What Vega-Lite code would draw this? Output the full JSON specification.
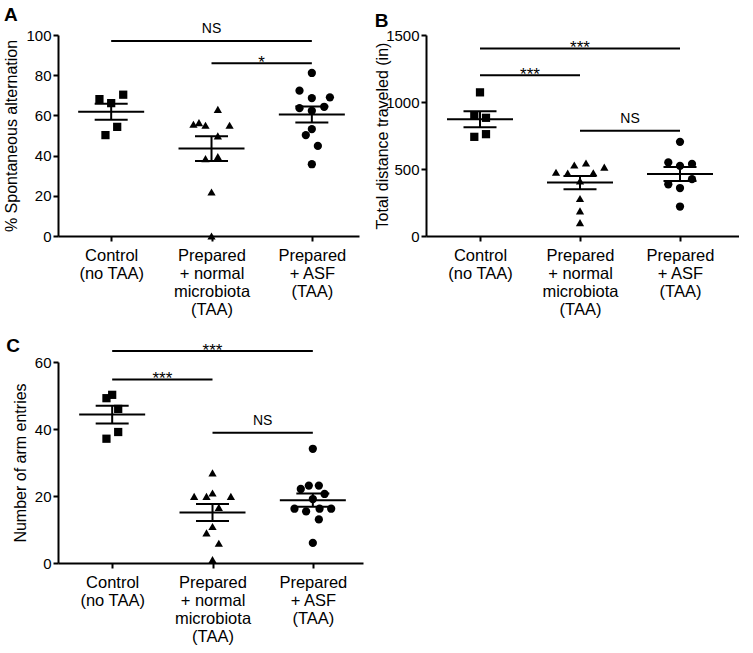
{
  "$schema": "https://vega.github.io/schema/vega-lite/v6.json",
  "padding": {"left": 3, "top": 6, "right": 0, "bottom": 0},
  "background": "white",
  "config": {
    "view": {"stroke": null},
    "font": "Liberation Sans",
    "axis": {"grid": false, "domainColor": "black", "domainWidth": 2, "tickColor": "black", "tickWidth": 2, "tickSize": 5, "labelColor": "black", "titleColor": "black", "titleFontWeight": "normal", "labelFont": "Liberation Sans", "titleFont": "Liberation Sans"},
    "axisY": {"labelFontSize": 15, "titleFontSize": 16, "labelPadding": 2, "titlePadding": 6, "format": "d"},
    "axisX": {"labelFontSize": 16.5, "labelPadding": 6, "labelLineHeight": 18, "labelFlush": false, "labelOverlap": false, "labelBaseline": "top"},
    "title": {"font": "Liberation Sans", "fontSize": 19, "fontWeight": "bold", "anchor": "start", "frame": "bounds", "color": "black"}
  },
  "datasets": {
    "pts": [
      {"p": "A", "grp": "Control", "g": 0, "pos": -0.117, "v": 68.1},
      {"p": "A", "grp": "Control", "g": 0, "pos": 0, "v": 66.1},
      {"p": "A", "grp": "Control", "g": 0, "pos": 0.12, "v": 70.3},
      {"p": "A", "grp": "Control", "g": 0, "pos": 0.06, "v": 54.3},
      {"p": "A", "grp": "Control", "g": 0, "pos": -0.057, "v": 50.2},
      {"p": "A", "grp": "Normal", "g": 1, "pos": 1.063, "v": 63.0},
      {"p": "A", "grp": "Normal", "g": 1, "pos": 0.82, "v": 55.6},
      {"p": "A", "grp": "Normal", "g": 1, "pos": 0.875, "v": 56.4},
      {"p": "A", "grp": "Normal", "g": 1, "pos": 0.94, "v": 55.1},
      {"p": "A", "grp": "Normal", "g": 1, "pos": 1.18, "v": 55.1},
      {"p": "A", "grp": "Normal", "g": 1, "pos": 1.063, "v": 49.8},
      {"p": "A", "grp": "Normal", "g": 1, "pos": 0.94, "v": 38.5},
      {"p": "A", "grp": "Normal", "g": 1, "pos": 1.063, "v": 39.5},
      {"p": "A", "grp": "Normal", "g": 1, "pos": 1, "v": 21.9},
      {"p": "A", "grp": "Normal", "g": 1, "pos": 1, "v": 0},
      {"p": "A", "grp": "ASF", "g": 2, "pos": 2, "v": 81.1},
      {"p": "A", "grp": "ASF", "g": 2, "pos": 1.877, "v": 72.3},
      {"p": "A", "grp": "ASF", "g": 2, "pos": 2, "v": 68.6},
      {"p": "A", "grp": "ASF", "g": 2, "pos": 2.18, "v": 69.0},
      {"p": "A", "grp": "ASF", "g": 2, "pos": 1.877, "v": 63.6},
      {"p": "A", "grp": "ASF", "g": 2, "pos": 2.123, "v": 64.3},
      {"p": "A", "grp": "ASF", "g": 2, "pos": 2, "v": 62.3},
      {"p": "A", "grp": "ASF", "g": 2, "pos": 2, "v": 53.2},
      {"p": "A", "grp": "ASF", "g": 2, "pos": 1.94, "v": 50.2},
      {"p": "A", "grp": "ASF", "g": 2, "pos": 2.06, "v": 44.8},
      {"p": "A", "grp": "ASF", "g": 2, "pos": 2, "v": 35.7},
      {"p": "B", "grp": "Control", "g": 0, "pos": 0, "v": 1072},
      {"p": "B", "grp": "Control", "g": 0, "pos": -0.057, "v": 902},
      {"p": "B", "grp": "Control", "g": 0, "pos": 0.06, "v": 882},
      {"p": "B", "grp": "Control", "g": 0, "pos": -0.057, "v": 740},
      {"p": "B", "grp": "Control", "g": 0, "pos": 0.06, "v": 760},
      {"p": "B", "grp": "Normal", "g": 1, "pos": 0.76, "v": 476},
      {"p": "B", "grp": "Normal", "g": 1, "pos": 0.877, "v": 469},
      {"p": "B", "grp": "Normal", "g": 1, "pos": 0.943, "v": 530},
      {"p": "B", "grp": "Normal", "g": 1, "pos": 1.06, "v": 545},
      {"p": "B", "grp": "Normal", "g": 1, "pos": 1.133, "v": 472},
      {"p": "B", "grp": "Normal", "g": 1, "pos": 1.243, "v": 514},
      {"p": "B", "grp": "Normal", "g": 1, "pos": 1, "v": 411},
      {"p": "B", "grp": "Normal", "g": 1, "pos": 1, "v": 280},
      {"p": "B", "grp": "Normal", "g": 1, "pos": 1, "v": 187},
      {"p": "B", "grp": "Normal", "g": 1, "pos": 1, "v": 100},
      {"p": "B", "grp": "ASF", "g": 2, "pos": 2, "v": 703},
      {"p": "B", "grp": "ASF", "g": 2, "pos": 1.883, "v": 549},
      {"p": "B", "grp": "ASF", "g": 2, "pos": 2, "v": 523},
      {"p": "B", "grp": "ASF", "g": 2, "pos": 2.12, "v": 538},
      {"p": "B", "grp": "ASF", "g": 2, "pos": 1.883, "v": 386},
      {"p": "B", "grp": "ASF", "g": 2, "pos": 2, "v": 358},
      {"p": "B", "grp": "ASF", "g": 2, "pos": 2.12, "v": 424},
      {"p": "B", "grp": "ASF", "g": 2, "pos": 2, "v": 220},
      {"p": "C", "grp": "Control", "g": 0, "pos": -0.057, "v": 49.2},
      {"p": "C", "grp": "Control", "g": 0, "pos": 0, "v": 50.2},
      {"p": "C", "grp": "Control", "g": 0, "pos": 0.06, "v": 46.0},
      {"p": "C", "grp": "Control", "g": 0, "pos": 0.06, "v": 39.1},
      {"p": "C", "grp": "Control", "g": 0, "pos": -0.057, "v": 37.1},
      {"p": "C", "grp": "Normal", "g": 1, "pos": 1, "v": 26.9},
      {"p": "C", "grp": "Normal", "g": 1, "pos": 0.817, "v": 19.9},
      {"p": "C", "grp": "Normal", "g": 1, "pos": 0.94, "v": 19.9},
      {"p": "C", "grp": "Normal", "g": 1, "pos": 1, "v": 20.9},
      {"p": "C", "grp": "Normal", "g": 1, "pos": 1.183, "v": 19.9},
      {"p": "C", "grp": "Normal", "g": 1, "pos": 1.063, "v": 16.6},
      {"p": "C", "grp": "Normal", "g": 1, "pos": 1, "v": 10.9},
      {"p": "C", "grp": "Normal", "g": 1, "pos": 0.94, "v": 9.0},
      {"p": "C", "grp": "Normal", "g": 1, "pos": 1.063, "v": 5.9},
      {"p": "C", "grp": "Normal", "g": 1, "pos": 1, "v": 1.0},
      {"p": "C", "grp": "ASF", "g": 2, "pos": 2, "v": 34.1},
      {"p": "C", "grp": "ASF", "g": 2, "pos": 1.88, "v": 22.1},
      {"p": "C", "grp": "ASF", "g": 2, "pos": 1.96, "v": 23.1},
      {"p": "C", "grp": "ASF", "g": 2, "pos": 2.06, "v": 23.1},
      {"p": "C", "grp": "ASF", "g": 2, "pos": 2.117, "v": 20.6},
      {"p": "C", "grp": "ASF", "g": 2, "pos": 2, "v": 19.1},
      {"p": "C", "grp": "ASF", "g": 2, "pos": 1.817, "v": 16.2},
      {"p": "C", "grp": "ASF", "g": 2, "pos": 1.933, "v": 15.4},
      {"p": "C", "grp": "ASF", "g": 2, "pos": 2.067, "v": 16.2},
      {"p": "C", "grp": "ASF", "g": 2, "pos": 2.183, "v": 16.2},
      {"p": "C", "grp": "ASF", "g": 2, "pos": 2.06, "v": 13.0},
      {"p": "C", "grp": "ASF", "g": 2, "pos": 2, "v": 6.0}
    ],
    "sig": [
      {"p": "A", "from": 0, "to": 2, "mid": 1, "y": 97, "label": "NS"},
      {"p": "A", "from": 1, "to": 2, "mid": 1.5, "y": 86, "label": "*"},
      {"p": "B", "from": 0, "to": 2, "mid": 1, "y": 1400, "label": "***"},
      {"p": "B", "from": 0, "to": 1, "mid": 0.5, "y": 1200, "label": "***"},
      {"p": "B", "from": 1, "to": 2, "mid": 1.5, "y": 785, "label": "NS"},
      {"p": "C", "from": 0, "to": 2, "mid": 1, "y": 63.3, "label": "***"},
      {"p": "C", "from": 0, "to": 1, "mid": 0.5, "y": 54.8, "label": "***"},
      {"p": "C", "from": 1, "to": 2, "mid": 1.5, "y": 38.9, "label": "NS"}
    ]
  },
  "spacing": 18,
  "vconcat": [
    {
      "spacing": 15,
      "hconcat": [
        {
          "width": 301, "height": 201,
          "title": {"text": "A", "offset": -3},
          "layer": [
            {"data": {"name": "pts"}, "transform": [{"filter": "datum.p == 'A'"}],
             "mark": {"type": "point", "filled": true, "size": 68, "opacity": 1, "color": "black"},
             "encoding": {
               "x": {"field": "pos", "type": "quantitative", "scale": {"domain": [-0.53, 2.47], "nice": false, "zero": false},
                     "axis": {"title": null, "values": [0, 1, 2], "labelExpr": "datum.value == 0 ? ['Control', '(no TAA)'] : datum.value == 1 ? ['Prepared', '+ normal', 'microbiota', '(TAA)'] : ['Prepared', '+ ASF', '(TAA)']"}},
               "y": {"field": "v", "type": "quantitative", "title": "% Spontaneous alternation", "scale": {"domain": [0, 100], "nice": false},
                     "axis": {"values": [0, 20, 40, 60, 80, 100]}},
               "shape": {"field": "grp", "type": "nominal", "scale": {"domain": ["Control", "Normal", "ASF"], "range": ["square", "triangle-up", "circle"]}, "legend": null}
             }},
            {"data": {"name": "pts"}, "transform": [{"filter": "datum.p == 'A'"}],
             "mark": {"type": "errorbar", "extent": "stderr", "orient": "vertical", "thickness": 2, "color": "black", "ticks": {"size": 33, "thickness": 2, "color": "black", "opacity": 1}},
             "encoding": {"x": {"field": "g", "type": "quantitative", "title": null}, "y": {"field": "v", "type": "quantitative", "title": "% Spontaneous alternation"}}},
            {"data": {"name": "pts"}, "transform": [{"filter": "datum.p == 'A'"}],
             "mark": {"type": "tick", "orient": "horizontal", "size": 66, "thickness": 2, "color": "black", "opacity": 1},
             "encoding": {"x": {"field": "g", "type": "quantitative", "title": null}, "y": {"aggregate": "mean", "field": "v", "type": "quantitative", "title": "% Spontaneous alternation"}}},
            {"data": {"name": "sig"}, "transform": [{"filter": "datum.p == 'A'"}],
             "mark": {"type": "rule", "strokeWidth": 2, "color": "black"},
             "encoding": {"x": {"field": "from", "type": "quantitative", "title": null}, "x2": {"field": "to"}, "y": {"field": "y", "type": "quantitative", "title": "% Spontaneous alternation"}}},
            {"data": {"name": "sig"}, "transform": [{"filter": "datum.p == 'A' && datum.label == 'NS'"}],
             "mark": {"type": "text", "fontSize": 14, "dy": -8, "baseline": "alphabetic", "color": "black"},
             "encoding": {"x": {"field": "mid", "type": "quantitative", "title": null}, "y": {"field": "y", "type": "quantitative", "title": "% Spontaneous alternation"}, "text": {"field": "label"}}},
            {"data": {"name": "sig"}, "transform": [{"filter": "datum.p == 'A' && datum.label != 'NS'"}],
             "mark": {"type": "text", "fontSize": 17, "dy": 5, "baseline": "alphabetic", "color": "black"},
             "encoding": {"x": {"field": "mid", "type": "quantitative", "title": null}, "y": {"field": "y", "type": "quantitative", "title": "% Spontaneous alternation"}, "text": {"field": "label"}}}
          ]
        },
        {
          "width": 313, "height": 201,
          "title": {"text": "B", "offset": -3},
          "layer": [
            {"data": {"name": "pts"}, "transform": [{"filter": "datum.p == 'B'"}],
             "mark": {"type": "point", "filled": true, "size": 68, "opacity": 1, "color": "black"},
             "encoding": {
               "x": {"field": "pos", "type": "quantitative", "scale": {"domain": [-0.54, 2.59], "nice": false, "zero": false},
                     "axis": {"title": null, "values": [0, 1, 2], "labelExpr": "datum.value == 0 ? ['Control', '(no TAA)'] : datum.value == 1 ? ['Prepared', '+ normal', 'microbiota', '(TAA)'] : ['Prepared', '+ ASF', '(TAA)']"}},
               "y": {"field": "v", "type": "quantitative", "title": "Total distance traveled (in)", "scale": {"domain": [0, 1500], "nice": false},
                     "axis": {"values": [0, 500, 1000, 1500], "titlePadding": -5}},
               "shape": {"field": "grp", "type": "nominal", "scale": {"domain": ["Control", "Normal", "ASF"], "range": ["square", "triangle-up", "circle"]}, "legend": null}
             }},
            {"data": {"name": "pts"}, "transform": [{"filter": "datum.p == 'B'"}],
             "mark": {"type": "errorbar", "extent": "stderr", "orient": "vertical", "thickness": 2, "color": "black", "ticks": {"size": 33, "thickness": 2, "color": "black", "opacity": 1}},
             "encoding": {"x": {"field": "g", "type": "quantitative", "title": null}, "y": {"field": "v", "type": "quantitative", "title": "Total distance traveled (in)"}}},
            {"data": {"name": "pts"}, "transform": [{"filter": "datum.p == 'B'"}],
             "mark": {"type": "tick", "orient": "horizontal", "size": 66, "thickness": 2, "color": "black", "opacity": 1},
             "encoding": {"x": {"field": "g", "type": "quantitative", "title": null}, "y": {"aggregate": "mean", "field": "v", "type": "quantitative", "title": "Total distance traveled (in)"}}},
            {"data": {"name": "sig"}, "transform": [{"filter": "datum.p == 'B'"}],
             "mark": {"type": "rule", "strokeWidth": 2, "color": "black"},
             "encoding": {"x": {"field": "from", "type": "quantitative", "title": null}, "x2": {"field": "to"}, "y": {"field": "y", "type": "quantitative", "title": "Total distance traveled (in)"}}},
            {"data": {"name": "sig"}, "transform": [{"filter": "datum.p == 'B' && datum.label == 'NS'"}],
             "mark": {"type": "text", "fontSize": 14, "dy": -8, "baseline": "alphabetic", "color": "black"},
             "encoding": {"x": {"field": "mid", "type": "quantitative", "title": null}, "y": {"field": "y", "type": "quantitative", "title": "Total distance traveled (in)"}, "text": {"field": "label"}}},
            {"data": {"name": "sig"}, "transform": [{"filter": "datum.p == 'B' && datum.label != 'NS'"}],
             "mark": {"type": "text", "fontSize": 17, "dy": 5, "baseline": "alphabetic", "color": "black"},
             "encoding": {"x": {"field": "mid", "type": "quantitative", "title": null}, "y": {"field": "y", "type": "quantitative", "title": "Total distance traveled (in)"}, "text": {"field": "label"}}}
          ]
        }
      ]
    },
    {
      "width": 305, "height": 201,
      "title": {"text": "C", "offset": -14, "dx": -6},
      "layer": [
        {"data": {"name": "pts"}, "transform": [{"filter": "datum.p == 'C'"}],
         "mark": {"type": "point", "filled": true, "size": 68, "opacity": 1, "color": "black"},
         "encoding": {
           "x": {"field": "pos", "type": "quantitative", "scale": {"domain": [-0.54, 2.5], "nice": false, "zero": false},
                 "axis": {"title": null, "values": [0, 1, 2], "labelExpr": "datum.value == 0 ? ['Control', '(no TAA)'] : datum.value == 1 ? ['Prepared', '+ normal', 'microbiota', '(TAA)'] : ['Prepared', '+ ASF', '(TAA)']"}},
           "y": {"field": "v", "type": "quantitative", "title": "Number of arm entries", "scale": {"domain": [0, 60], "nice": false},
                 "axis": {"values": [0, 20, 40, 60]}},
           "shape": {"field": "grp", "type": "nominal", "scale": {"domain": ["Control", "Normal", "ASF"], "range": ["square", "triangle-up", "circle"]}, "legend": null}
         }},
        {"data": {"name": "pts"}, "transform": [{"filter": "datum.p == 'C'"}],
         "mark": {"type": "errorbar", "extent": "stderr", "orient": "vertical", "thickness": 2, "color": "black", "ticks": {"size": 33, "thickness": 2, "color": "black", "opacity": 1}},
         "encoding": {"x": {"field": "g", "type": "quantitative", "title": null}, "y": {"field": "v", "type": "quantitative", "title": "Number of arm entries"}}},
        {"data": {"name": "pts"}, "transform": [{"filter": "datum.p == 'C'"}],
         "mark": {"type": "tick", "orient": "horizontal", "size": 66, "thickness": 2, "color": "black", "opacity": 1},
         "encoding": {"x": {"field": "g", "type": "quantitative", "title": null}, "y": {"aggregate": "mean", "field": "v", "type": "quantitative", "title": "Number of arm entries"}}},
        {"data": {"name": "sig"}, "transform": [{"filter": "datum.p == 'C'"}],
         "mark": {"type": "rule", "strokeWidth": 2, "color": "black"},
         "encoding": {"x": {"field": "from", "type": "quantitative", "title": null}, "x2": {"field": "to"}, "y": {"field": "y", "type": "quantitative", "title": "Number of arm entries"}}},
        {"data": {"name": "sig"}, "transform": [{"filter": "datum.p == 'C' && datum.label == 'NS'"}],
         "mark": {"type": "text", "fontSize": 14, "dy": -8, "baseline": "alphabetic", "color": "black"},
         "encoding": {"x": {"field": "mid", "type": "quantitative", "title": null}, "y": {"field": "y", "type": "quantitative", "title": "Number of arm entries"}, "text": {"field": "label"}}},
        {"data": {"name": "sig"}, "transform": [{"filter": "datum.p == 'C' && datum.label != 'NS'"}],
         "mark": {"type": "text", "fontSize": 17, "dy": 5, "baseline": "alphabetic", "color": "black"},
         "encoding": {"x": {"field": "mid", "type": "quantitative", "title": null}, "y": {"field": "y", "type": "quantitative", "title": "Number of arm entries"}, "text": {"field": "label"}}}
      ]
    }
  ]
}
